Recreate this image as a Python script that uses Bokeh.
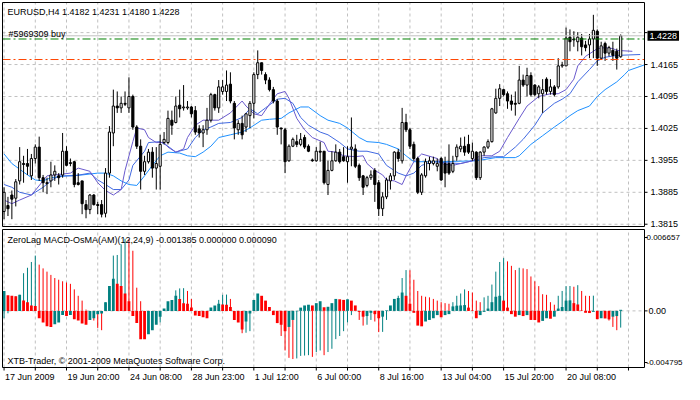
from bokeh.plotting import figure
from bokeh.layouts import column
from bokeh.models import ColumnDataSource, Label, Range1d
from bokeh.core.properties import value
from bokeh.embed import file_html
from bokeh.resources import INLINE

# ---------------- data ----------------
symbol = "EURUSD,H4"
open_ = [1.3843, 1.3856, 1.3879, 1.3872, 1.3910, 1.3948, 1.3948, 1.3921, 1.3959, 1.3984,
         1.3917, 1.3906, 1.3910, 1.3923, 1.3921, 1.3923, 1.3975, 1.3950, 1.3952, 1.3906,
         1.3910, 1.3858, 1.3847, 1.3879, 1.3858, 1.3858, 1.3839, 1.3927, 1.4015, 1.4074,
         1.4070, 1.4080, 1.4070, 1.4095, 1.4028, 1.3986, 1.3931, 1.3952, 1.3973, 1.3938,
         1.3942, 1.3994, 1.3994, 1.4043, 1.4038, 1.4076, 1.4070, 1.4070, 1.4072, 1.4064,
         1.4024, 1.4015, 1.4022, 1.4043, 1.4099, 1.4070, 1.4106, 1.4106, 1.4122, 1.4080,
         1.4022, 1.4036, 1.4028, 1.4053, 1.4080, 1.4143, 1.4169, 1.4143, 1.4131, 1.4110,
         1.4085, 1.4026, 1.4022, 1.3954, 1.3986, 1.3996, 1.3990, 1.4005, 1.3986, 1.3956,
         1.3954, 1.3975, 1.3975, 1.3902, 1.3933, 1.3954, 1.3973, 1.3963, 1.3952, 1.3980,
         1.3980, 1.3944, 1.3921, 1.3900, 1.3917, 1.3933, 1.3906, 1.3849, 1.3875, 1.3910,
         1.3921, 1.3973, 1.3954, 1.4038, 1.4022, 1.3990, 1.3959, 1.3885, 1.3921, 1.3948,
         1.3948, 1.3942, 1.3959, 1.3948, 1.3948, 1.3931, 1.3963, 1.3980, 1.3986, 1.3990,
         1.3959, 1.3973, 1.3917, 1.3973, 1.3984, 1.3996, 1.4059, 1.4091, 1.4110, 1.4101,
         1.4085, 1.4080, 1.4080, 1.4131, 1.4120, 1.4141, 1.4120, 1.4101, 1.4101, 1.4133,
         1.4106, 1.4116, 1.4116, 1.4162, 1.4162, 1.4225, 1.4221, 1.4215, 1.4223, 1.4208,
         1.4208, 1.4221, 1.4238, 1.4179, 1.4211, 1.4190, 1.4196, 1.4194, 1.4182]
high = [1.3896, 1.3875, 1.3889, 1.3914, 1.3984, 1.3965, 1.3980, 1.3969, 1.3990, 1.4007,
        1.3923, 1.3917, 1.3952, 1.3944, 1.3927, 1.4015, 1.3986, 1.3959, 1.3954, 1.3927,
        1.3910, 1.3868, 1.3881, 1.3881, 1.3864, 1.3868, 1.3938, 1.4030, 1.4110, 1.4106,
        1.4095, 1.4106, 1.4137, 1.4099, 1.4032, 1.4001, 1.3965, 1.3980, 1.3984, 1.3984,
        1.4011, 1.4017, 1.4064, 1.4064, 1.4095, 1.4110, 1.4120, 1.4085, 1.4074, 1.4074,
        1.4032, 1.4032, 1.4070, 1.4103, 1.4101, 1.4131, 1.4131, 1.4152, 1.4148, 1.4085,
        1.4043, 1.4053, 1.4059, 1.4085, 1.4148, 1.4196, 1.4169, 1.4148, 1.4137, 1.4116,
        1.4089, 1.4026, 1.4026, 1.3990, 1.4005, 1.4011, 1.4015, 1.4011, 1.3990, 1.3959,
        1.3984, 1.3996, 1.3975, 1.3954, 1.3975, 1.3990, 1.3980, 1.3984, 1.3986, 1.4049,
        1.3990, 1.3948, 1.3923, 1.3921, 1.3933, 1.3938, 1.3912, 1.3885, 1.3917, 1.3927,
        1.3975, 1.3980, 1.4070, 1.4057, 1.4026, 1.3996, 1.3963, 1.3927, 1.3959, 1.3963,
        1.3963, 1.3959, 1.3963, 1.3963, 1.3990, 1.3965, 1.3990, 1.4005, 1.4007, 1.4011,
        1.3994, 1.3975, 1.3975, 1.3986, 1.4001, 1.4070, 1.4112, 1.4122, 1.4112, 1.4106,
        1.4099, 1.4106, 1.4162, 1.4143, 1.4158, 1.4148, 1.4122, 1.4120, 1.4133, 1.4137,
        1.4133, 1.4120, 1.4179, 1.4171, 1.4246, 1.4242, 1.4238, 1.4236, 1.4232, 1.4217,
        1.4232, 1.4274, 1.4242, 1.4215, 1.4215, 1.4206, 1.4215, 1.4200, 1.4231]
low = [1.3826, 1.3833, 1.3826, 1.3854, 1.3902, 1.3906, 1.3923, 1.3912, 1.3948, 1.3910,
       1.3885, 1.3881, 1.3896, 1.3910, 1.3902, 1.3917, 1.3942, 1.3942, 1.3896, 1.3900,
       1.3837, 1.3828, 1.3837, 1.3856, 1.3837, 1.3830, 1.3830, 1.3917, 1.3986, 1.4059,
       1.4059, 1.4074, 1.4059, 1.4022, 1.3980, 1.3891, 1.3923, 1.3948, 1.3917, 1.3891,
       1.3891, 1.3990, 1.3990, 1.4011, 1.4036, 1.4049, 1.4064, 1.4066, 1.4049, 1.4011,
       1.4005, 1.3984, 1.4011, 1.4038, 1.4064, 1.4059, 1.4099, 1.4085, 1.4080, 1.4001,
       1.4011, 1.4001, 1.4017, 1.4026, 1.4047, 1.4133, 1.4143, 1.4122, 1.4106, 1.4080,
       1.4011, 1.3990, 1.3927, 1.3952, 1.3984, 1.3984, 1.3986, 1.3980, 1.3973, 1.3952,
       1.3952, 1.3952, 1.3902, 1.3879, 1.3931, 1.3952, 1.3948, 1.3952, 1.3906, 1.3942,
       1.3938, 1.3910, 1.3879, 1.3896, 1.3912, 1.3864, 1.3833, 1.3833, 1.3870, 1.3891,
       1.3912, 1.3952, 1.3948, 1.4017, 1.3980, 1.3954, 1.3881, 1.3879, 1.3917, 1.3933,
       1.3944, 1.3931, 1.3910, 1.3896, 1.3923, 1.3927, 1.3954, 1.3973, 1.3965, 1.3969,
       1.3954, 1.3912, 1.3912, 1.3965, 1.3980, 1.3994, 1.4057, 1.4074, 1.4095, 1.4068,
       1.4064, 1.4053, 1.4078, 1.4116, 1.4095, 1.4095, 1.4095, 1.4091, 1.4059, 1.4099,
       1.4099, 1.4095, 1.4112, 1.4158, 1.4162, 1.4194, 1.4204, 1.4194, 1.4185, 1.4194,
       1.4179, 1.4179, 1.4162, 1.4175, 1.4173, 1.4183, 1.4173, 1.4154, 1.4180]
close = [1.3885, 1.3849, 1.3870, 1.3908, 1.3952, 1.3946, 1.3942, 1.3959, 1.3984, 1.3917,
         1.3906, 1.3904, 1.3923, 1.3931, 1.3917, 1.3975, 1.3944, 1.3948, 1.3902, 1.3902,
         1.3860, 1.3847, 1.3879, 1.3858, 1.3856, 1.3837, 1.3927, 1.4017, 1.4074, 1.4070,
         1.4080, 1.4078, 1.4095, 1.4028, 1.3986, 1.3931, 1.3952, 1.3973, 1.3938, 1.3948,
         1.3990, 1.4001, 1.4047, 1.4032, 1.4074, 1.4068, 1.4072, 1.4072, 1.4057, 1.4017,
         1.4015, 1.4022, 1.4043, 1.4099, 1.4070, 1.4116, 1.4116, 1.4120, 1.4085, 1.4026,
         1.4036, 1.4011, 1.4057, 1.4080, 1.4143, 1.4169, 1.4152, 1.4131, 1.4110, 1.4085,
         1.4028, 1.4024, 1.3952, 1.3986, 1.4001, 1.3990, 1.4001, 1.3984, 1.3975, 1.3954,
         1.3975, 1.3973, 1.3906, 1.3933, 1.3954, 1.3973, 1.3952, 1.3954, 1.3963, 1.3984,
         1.3942, 1.3917, 1.3896, 1.3917, 1.3923, 1.3902, 1.3849, 1.3875, 1.3912, 1.3921,
         1.3973, 1.3959, 1.4038, 1.4022, 1.3986, 1.3959, 1.3885, 1.3923, 1.3952, 1.3954,
         1.3954, 1.3948, 1.3912, 1.3927, 1.3927, 1.3948, 1.3984, 1.3986, 1.3973, 1.3973,
         1.3975, 1.3917, 1.3973, 1.3984, 1.3996, 1.4068, 1.4091, 1.4112, 1.4099, 1.4085,
         1.4078, 1.4078, 1.4131, 1.4120, 1.4141, 1.4099, 1.4099, 1.4116, 1.4110, 1.4106,
         1.4116, 1.4099, 1.4162, 1.4164, 1.4223, 1.4215, 1.4219, 1.4225, 1.4204, 1.4202,
         1.4221, 1.4240, 1.4179, 1.4206, 1.4190, 1.4202, 1.4185, 1.4179, 1.4228]

# moving averages (bar index, price)
ma_fast_bar = [0, 2, 4, 7, 8, 11, 13, 17, 19, 22, 24, 26, 28, 30, 31, 33, 34, 36, 37, 39,
               41, 42, 44, 46, 47, 49, 51, 53, 55, 58, 61, 62, 64, 66, 68, 70, 72, 73, 75, 77,
               79, 82, 83, 85, 87, 90, 92, 93, 95, 97, 98, 100, 102, 103, 105, 107, 111, 112, 115, 117,
               120, 122, 125, 127, 129, 132, 134, 137, 140, 142, 144, 146, 147, 149, 151, 152, 154, 156, 157, 161]
ma_fast = [1.3868, 1.3860, 1.3868, 1.3879, 1.3889, 1.3921, 1.3923, 1.3927, 1.3938, 1.3931,
           1.3906, 1.3889, 1.3879, 1.3891, 1.3933, 1.3996, 1.4026, 1.4022, 1.4005, 1.3994,
           1.3994, 1.3984, 1.3973, 1.3980, 1.4005, 1.4032, 1.4043, 1.4043, 1.4043, 1.4059,
           1.4085, 1.4074, 1.4057, 1.4053, 1.4078, 1.4101, 1.4106, 1.4091, 1.4047, 1.4022,
           1.4005, 1.3994, 1.3975, 1.3973, 1.3965, 1.3963, 1.3965, 1.3948, 1.3933, 1.3923,
           1.3912, 1.3910, 1.3902, 1.3921, 1.3952, 1.3969, 1.3959, 1.3948, 1.3944, 1.3948,
           1.3954, 1.3965, 1.3965, 1.3975, 1.4005, 1.4047, 1.4074, 1.4095, 1.4101, 1.4101,
           1.4110, 1.4133, 1.4162, 1.4183, 1.4194, 1.4200, 1.4202, 1.4200, 1.4196, 1.4194]
ma_mid_bar = [0, 2, 4, 7, 8, 10, 12, 14, 18, 22, 24, 26, 28, 30, 32, 33, 36, 37, 40, 42,
              44, 47, 49, 51, 53, 55, 58, 61, 63, 65, 67, 70, 72, 74, 76, 78, 81, 83, 86, 88,
              91, 93, 96, 98, 101, 103, 105, 107, 110, 113, 117, 120, 123, 126, 128, 131, 133, 136, 138, 141,
              143, 145, 147, 150, 152, 154, 157, 163]
ma_mid = [1.3902, 1.3896, 1.3885, 1.3879, 1.3885, 1.3896, 1.3910, 1.3921, 1.3921, 1.3927,
          1.3912, 1.3902, 1.3891, 1.3891, 1.3912, 1.3944, 1.3975, 1.3994, 1.3996, 1.3986,
          1.3973, 1.3980, 1.4005, 1.4022, 1.4028, 1.4036, 1.4038, 1.4049, 1.4068, 1.4057,
          1.4070, 1.4089, 1.4091, 1.4080, 1.4049, 1.4032, 1.4017, 1.4011, 1.3994, 1.3980,
          1.3975, 1.3975, 1.3969, 1.3944, 1.3927, 1.3921, 1.3927, 1.3944, 1.3952, 1.3950,
          1.3948, 1.3954, 1.3961, 1.3963, 1.3963, 1.3984, 1.4001, 1.4032, 1.4059, 1.4080,
          1.4089, 1.4101, 1.4127, 1.4154, 1.4173, 1.4181, 1.4185, 1.4187]
ma_slow_bar = [0, 2, 6, 8, 10, 12, 16, 20, 24, 26, 28, 30, 32, 34, 36, 38, 40, 42, 45, 47,
               49, 51, 53, 55, 58, 61, 63, 66, 68, 71, 73, 76, 78, 81, 83, 86, 88, 91, 93, 96,
               98, 101, 103, 105, 112, 121, 126, 131, 132, 135, 138, 141, 143, 145, 147, 150, 152, 154, 157, 159,
               160, 164]
ma_slow = [1.3969, 1.3948, 1.3923, 1.3912, 1.3910, 1.3917, 1.3921, 1.3923, 1.3927, 1.3927,
           1.3921, 1.3910, 1.3902, 1.3900, 1.3921, 1.3944, 1.3965, 1.3973, 1.3971, 1.3965,
           1.3963, 1.3973, 1.3986, 1.4005, 1.4011, 1.4017, 1.4026, 1.4043, 1.4045, 1.4047,
           1.4059, 1.4072, 1.4072, 1.4053, 1.4043, 1.4036, 1.4026, 1.4005, 1.3996, 1.3994,
           1.3990, 1.3980, 1.3965, 1.3952, 1.3952, 1.3954, 1.3961, 1.3961, 1.3965, 1.3990,
           1.4009, 1.4028, 1.4040, 1.4053, 1.4064, 1.4074, 1.4095, 1.4110, 1.4127, 1.4143,
           1.4152, 1.4164]

order_price = 1.4221
order_label = "#5969309 buy"
stop_price = 1.4176

price_ticks = [1.3815, 1.3885, 1.3955, 1.4025, 1.4095, 1.4165, 1.4235]
price_tick_labels = ["1.3815", "1.3885", "1.3955", "1.4025", "1.4095", "1.4165", ""]

# ZeroLag MACD-OsMA, values in units of 1e-4
osma_e4 = [16.5, 13.0, 12.6, 12.2, 13.3, 8.5, 7.2, 4.5, 4.0, -6.1,
           -9.6, -12.8, -13.3, -11.0, -9.6, -3.5, -4.3, -3.5, -6.9, -8.0,
           -10.5, -11.5, -7.5, -6.1, -2.7, -2.1, 7.2, 20.5, 26.6, 22.4,
           20.5, 14.4, 8.0, -4.3, -10.1, -23.4, -23.6, -19.4, -16.0, -11.5,
           -4.8, 1.9, 8.0, 9.1, 12.5, 9.9, 6.4, 5.9, 2.7, -3.8,
           -4.3, -5.3, -6.1, 2.7, 4.5, 5.9, 5.3, 5.0, 3.2, -7.5,
           -9.6, -15.4, -8.8, -2.1, 9.1, 14.4, 12.5, 8.5, 3.2, -3.5,
           -10.1, -11.5, -16.8, -13.3, -7.5, -0.3, 2.7, 4.5, 5.1, 4.5,
           6.4, 8.0, 3.0, 3.4, 6.4, 9.9, 9.6, 9.1, 9.6, 8.5,
           4.5, -0.8, -4.8, -4.3, -1.6, -2.7, -6.1, -4.8, 0.5, 4.5,
           9.9, 10.7, 15.2, 12.5, 5.9, -1.6, -12.2, -12.8, -8.8, -7.5,
           -6.1, -3.5, -5.3, -3.5, -2.7, 3.7, 4.3, 4.5, 4.8, 2.7,
           0.3, -6.1, -3.5, -0.8, 1.9, 7.2, 11.7, 12.5, 8.5, 2.7,
           -2.7, -4.8, -3.5, -4.3, -3.5, -7.5, -7.6, -9.6, -8.3, -6.1,
           -6.5, -4.8, 1.9, 3.2, 8.5, 8.7, 6.4, 5.3, 0.3, -1.6,
           -1.8, -0.8, -6.9, -6.1, -6.3, -7.0, -4.8, -4.3, 0.9]
macd_e4 = [-6.1, -2.0, 4.0, 12.0, 13.3, 31.2, 35.7, 40.5, 45.8, 38.3,
           35.2, 32.5, 29.8, 27.2, 25.8, 24.5, 23.5, 22.4, 17.8, 12.5,
           8.5, 1.1, -4.0, -8.0, -14.1, -16.0, 7.0, 20.5, 45.8, 46.3,
           55.1, 59.7, 59.1, 49.8, 19.2, 8.0, -1.0, -6.1, -8.8, -10.1,
           -9.6, 1.1, 5.9, 8.5, 17.0, 18.6, 18.8, 16.5, 9.9, -0.5,
           -2.1, -3.5, -2.1, 1.9, 3.7, 9.1, 13.3, 13.5, 9.9, -0.8,
           -4.8, -18.5, -18.1, -16.8, 1.9, 9.9, 10.7, 6.4, 1.9, -2.1,
           -10.1, -20.8, -32.8, -38.9, -39.9, -39.4, -37.3, -37.0, -36.7, -38.1,
           -34.1, -32.8, -36.7, -34.1, -31.4, -23.4, -20.8, -16.8, -9.6, -3.5,
           -0.3, -7.5, -12.2, -11.5, -7.5, -8.8, -17.6, -17.4, -7.5, 1.1,
           7.2, 12.5, 27.2, 33.8, 33.6, 25.8, 16.5, 12.5, 11.7, 11.2,
           9.9, 8.5, 7.2, 6.4, 5.9, 7.2, 12.5, 14.4, 17.8, 16.5,
           15.2, 8.5, 7.2, 11.2, 12.5, 21.8, 32.5, 40.5, 43.7, 41.0,
           37.3, 33.8, 35.7, 35.2, 34.6, 28.5, 24.5, 20.5, 13.8, 13.3,
           7.2, 5.1, 12.5, 16.5, 20.5, 20.6, 20.0, 21.3, 16.5, 12.5,
           12.4, 12.6, -2.1, -3.5, -4.8, -8.0, -13.3, -16.0, -13.85]
macd_max_label = "0.006657"
macd_zero_label = "0.00"
macd_min_label = "-0.004795"

date_tick_bars = [0, 16, 32, 48, 64, 80, 96, 112, 128, 144]
date_tick_labels = ["17 Jun 2009", "19 Jun 20:00", "24 Jun 08:00", "28 Jun 23:00", "1 Jul 12:00",
                    "6 Jul 00:00", "8 Jul 16:00", "13 Jul 04:00", "15 Jul 20:00", "20 Jul 08:00"]
grid_bars = list(range(0, 161, 8))
copyright_text = "XTB-Trader, \u00a9 2001-2009 MetaQuotes Software Corp."

# ---------------- layout / styling ----------------
W = 684
H1, H2 = 228, 156
PL, PR = 2, 644            # panel box left/right (px)
PT, PB = 2, 226            # price panel top/bottom (px)
QT, QB = 1, 139            # indicator panel top/bottom (px)
FONT = "Liberation Sans"
FS = "9px"
FS_SMALL = "8px"
GRID = "#C0C0C0"
TEAL = "#008080"
RED = "#FF0000"

x_lo, x_hi = -0.4, 164.1
p_lo, p_hi = 1.3810, 1.4301
m_lo, m_hi = -0.00469, 0.00674

dx = (x_hi - x_lo) / (PR - PL)
dy1 = (p_hi - p_lo) / (PB - PT)
dy2 = (m_hi - m_lo) / (QB - QT)
xr = Range1d(x_lo - PL * dx, x_lo + (W - PL) * dx)

n = min(len(open_), len(high), len(low), len(close))
idx = list(range(n))


def make_fig(height, yr):
    f = figure(width=W, height=height, x_range=xr, y_range=yr, output_backend="svg",
               toolbar_location=None, x_axis_location=None, y_axis_location=None,
               min_border=0, min_border_left=0, min_border_right=0, min_border_top=0,
               min_border_bottom=0, background_fill_color="white", border_fill_color="white",
               outline_line_color=None)
    f.grid.visible = False
    return f


def text_kw(size=FS):
    return dict(text_font=value(FONT), text_font_size=value(size), text_color="black",
                text_baseline="middle", text_align="left")


# ---------------- price panel ----------------
p1 = make_fig(H1, Range1d(p_lo - (H1 - PB) * dy1, p_hi + PT * dy1))

# dashed grid
p1.segment(x0=grid_bars, y0=[p_lo] * len(grid_bars), x1=grid_bars, y1=[p_hi] * len(grid_bars),
           line_color=GRID, line_width=1, line_dash="3 3")
p1.segment(x0=[x_lo] * len(price_ticks), y0=price_ticks, x1=[x_hi] * len(price_ticks), y1=price_ticks,
           line_color=GRID, line_width=1, line_dash="3 3")

# moving averages
for bars, vals, col in ((ma_slow_bar, ma_slow, "#1E90FF"),
                        (ma_mid_bar, ma_mid, "#4169E1"),
                        (ma_fast_bar, ma_fast, "#6A5ACD")):
    pts = [(b, v) for b, v in zip(bars, vals) if b <= x_hi]
    p1.line([b for b, _ in pts], [v for _, v in pts], line_color=col, line_width=1)

# candles
src = ColumnDataSource(dict(
    x=idx, h=high[:n], l=low[:n],
    top=[max(o, c) for o, c in zip(open_[:n], close[:n])],
    bottom=[min(o, c) for o, c in zip(open_[:n], close[:n])],
    fill=["white" if c >= o else "black" for o, c in zip(open_[:n], close[:n])],
))
p1.segment(x0="x", y0="h", x1="x", y1="l", source=src, line_color="black", line_width=1)
p1.vbar(x="x", width=0.55, top="top", bottom="bottom", fill_color="fill",
        line_color="black", line_width=1, source=src)

# bid / order / stop lines
p1.segment(x0=[x_lo], y0=[close[n - 1]], x1=[x_hi], y1=[close[n - 1]], line_color=GRID, line_width=1)
p1.segment(x0=[x_lo], y0=[order_price], x1=[x_hi], y1=[order_price], line_color="#008000",
           line_width=1, line_dash="8 3 2 3")
p1.segment(x0=[x_lo], y0=[stop_price], x1=[x_hi], y1=[stop_price], line_color="#FF4500",
           line_width=1, line_dash="8 3 2 3")

# panel border and right-axis ticks
p1.quad(left=[x_lo], right=[x_hi], bottom=[p_lo], top=[p_hi], fill_color=None,
        line_color="black", line_width=1)
p1.segment(x0=[x_hi] * len(price_ticks), y0=price_ticks, x1=[x_hi + 3 * dx] * len(price_ticks),
           y1=price_ticks, line_color="black", line_width=1)

# texts
title = f"{symbol} {open_[n-1]:.4f} {high[n-1]:.4f} {low[n-1]:.4f} {close[n-1]:.4f}"
p1.text(x=[x_lo + 5 * dx], y=[p_hi - 9 * dy1], text=[title], **text_kw())
p1.text(x=[x_lo + 6 * dx], y=[order_price + 5 * dy1], text=[order_label], **text_kw())
p1.text(x=[x_hi + 6 * dx] * 6, y=price_ticks[:6], text=price_tick_labels[:6], **text_kw())
p1.add_layout(Label(x=x_hi + 3 * dx, y=close[n - 1], text=f"{close[n-1]:.4f}",
                    text_font=FONT, text_font_size=FS, text_color="white",
                    background_fill_color="black", padding=2,
                    text_baseline="middle", text_align="left"))

# ---------------- indicator panel ----------------
p2 = make_fig(H2, Range1d(m_lo - (H2 - QB) * dy2, m_hi + QT * dy2))

p2.segment(x0=grid_bars, y0=[m_lo] * len(grid_bars), x1=grid_bars, y1=[m_hi] * len(grid_bars),
           line_color=GRID, line_width=1, line_dash="3 3")
p2.segment(x0=[x_lo], y0=[0], x1=[x_hi], y1=[0], line_color=GRID, line_width=1, line_dash="3 3")

k = min(len(osma_e4), len(macd_e4))
osma = [v * 1e-4 for v in osma_e4[:k]]
macd = [v * 1e-4 for v in macd_e4[:k]]


def trend_colors(vals):
    return [TEAL if i == 0 or v >= vals[i - 1] else RED for i, v in enumerate(vals)]


msrc = ColumnDataSource(dict(x=list(range(k)), macd=macd, osma=osma,
                             mc=trend_colors(macd), oc=trend_colors(osma)))
p2.segment(x0="x", y0=0, x1="x", y1="macd", line_color="mc", line_width=1, source=msrc)
p2.vbar(x="x", width=0.72, top="osma", bottom=0, fill_color="oc", line_color=None, source=msrc)

p2.quad(left=[x_lo], right=[x_hi], bottom=[m_lo], top=[m_hi], fill_color=None,
        line_color="black", line_width=1)
p2.segment(x0=grid_bars, y0=[m_lo] * len(grid_bars), x1=grid_bars,
           y1=[m_lo - 3 * dy2] * len(grid_bars), line_color="black", line_width=1)
p2.segment(x0=[x_hi] * 3, y0=[m_hi - 8 * dy2, 0, m_lo + 5 * dy2], x1=[x_hi + 3 * dx] * 3,
           y1=[m_hi - 8 * dy2, 0, m_lo + 5 * dy2], line_color="black", line_width=1)

ind_title = f"ZeroLag MACD-OsMA(AM)(12,24,9) {macd[-1]:.6f} 0.000000 {osma[-1]:.6f}"
p2.text(x=[x_lo + 5 * dx], y=[m_hi - 10 * dy2], text=[ind_title], **text_kw())
p2.text(x=[x_lo + 5 * dx], y=[m_lo + 7 * dy2], text=[copyright_text], **text_kw())
p2.text(x=[x_hi + 4 * dx], y=[0.0], text=[macd_zero_label], **text_kw())
p2.text(x=[x_hi + 2 * dx] * 2, y=[m_hi - 8 * dy2, m_lo + 5 * dy2],
        text=[macd_max_label, macd_min_label], **text_kw(FS_SMALL))
p2.text(x=[b + 1 * dx for b in date_tick_bars], y=[m_lo - 9 * dy2] * len(date_tick_bars),
        text=date_tick_labels, **text_kw())

layout = column(p1, p2)
open("out.html", "w").write(file_html(layout, INLINE))
